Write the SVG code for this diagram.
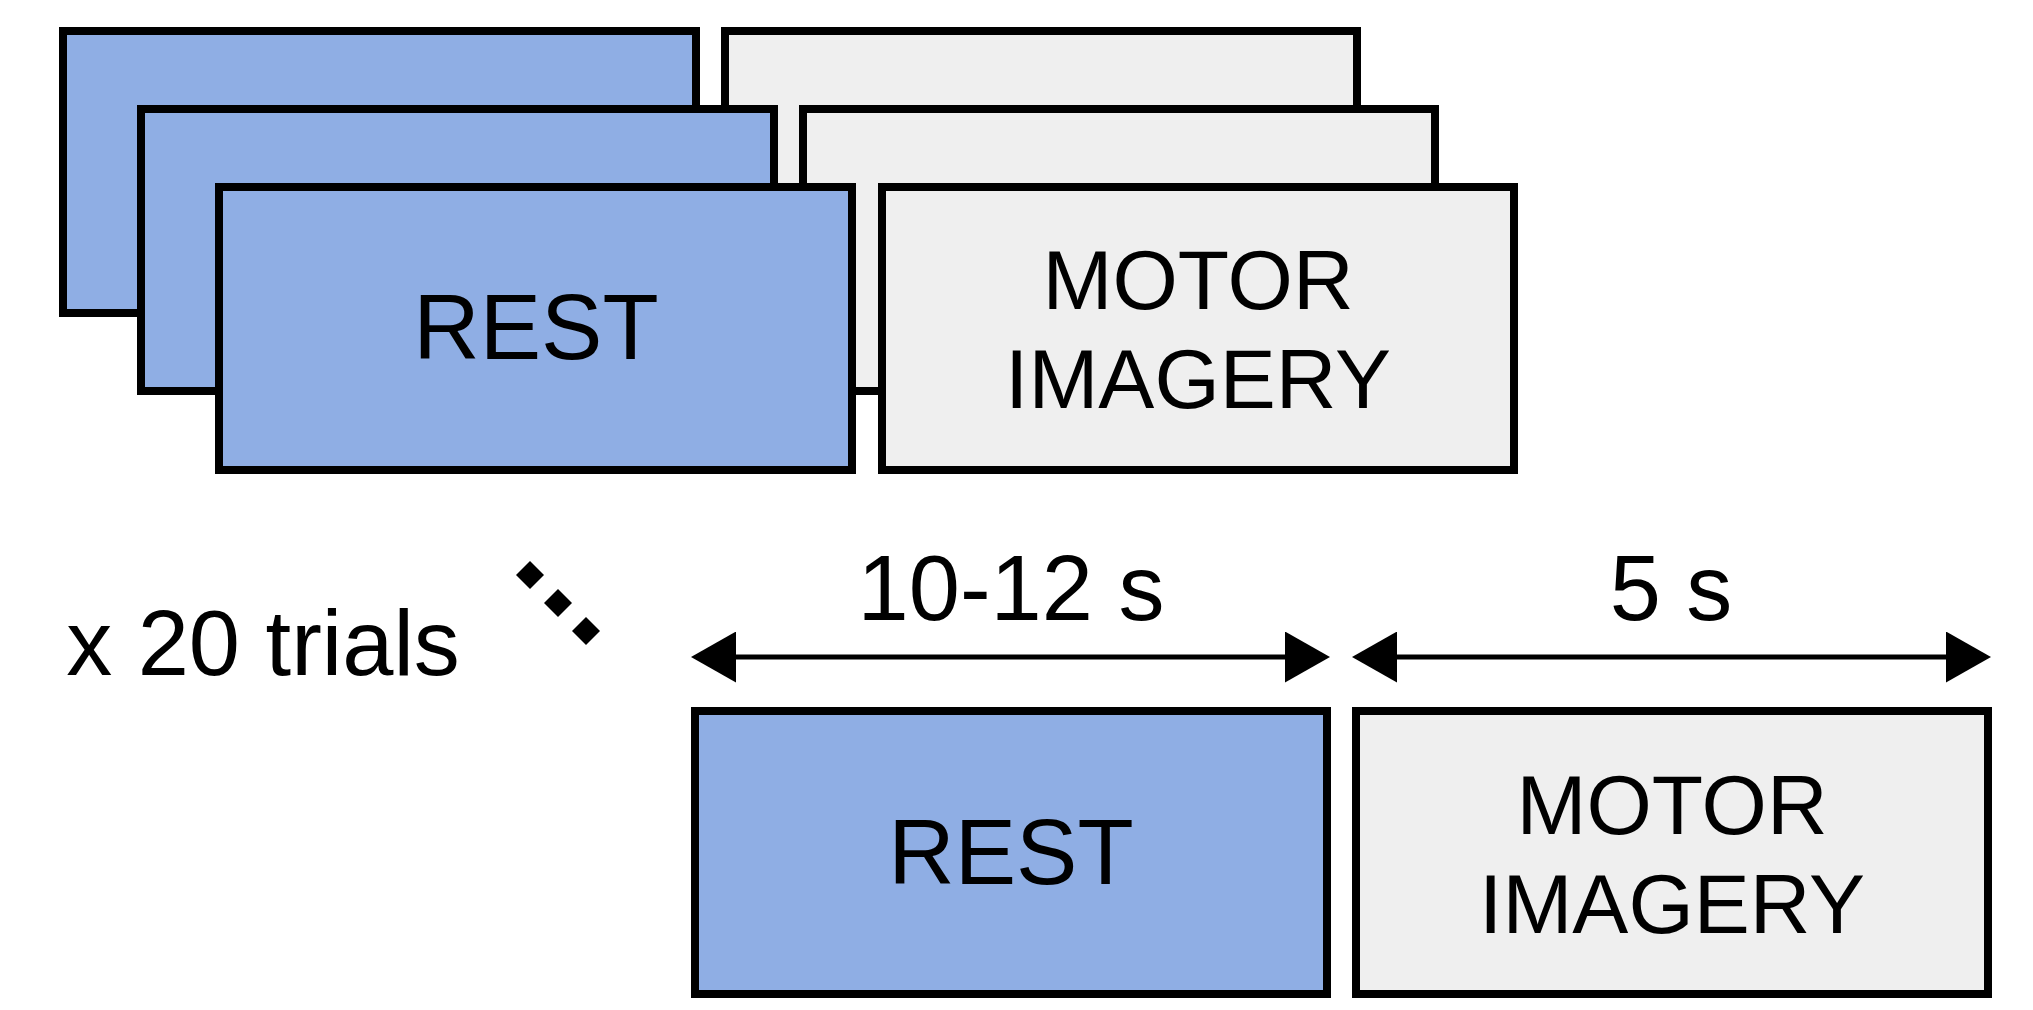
<svg xmlns="http://www.w3.org/2000/svg" width="2033" height="1010" viewBox="0 0 2033 1010">
  <style>
    .rest { fill: #8FAEE4; stroke: #000; stroke-width: 8; }
    .mi { fill: #EFEFEF; stroke: #000; stroke-width: 8; }
    .lbl { font-family: "Liberation Sans", Arial, sans-serif; fill: #000; text-anchor: middle; }
    .big { font-size: 92px; }
    .mid { font-size: 84px; }
    .conn { stroke: #000; stroke-width: 5; fill: none; marker-start: url(#ah); marker-end: url(#ah); }
  </style>
  <defs>
    <marker id="ah" markerUnits="userSpaceOnUse" markerWidth="45" markerHeight="51" refX="40" refY="25.5" orient="auto-start-reverse" viewBox="0 0 45 51">
      <path d="M0,0 L45,25.5 L0,51 Z" fill="#000"/>
    </marker>
  </defs>
  <rect width="2033" height="1010" fill="#fff"/>

  <g id="rest-back-1"><rect class="rest" x="63" y="31" width="633" height="282"/></g>
  <g id="mi-back-1"><rect class="mi" x="725" y="31" width="632" height="282"/></g>
  <g id="rest-back-2"><rect class="rest" x="141" y="109" width="633" height="282"/></g>
  <g id="mi-back-2"><rect class="mi" x="803" y="109" width="632" height="282"/></g>
  <g id="rest-front">
    <rect class="rest" x="219" y="187" width="633" height="283"/>
    <text class="lbl big" x="536" y="359">REST</text>
  </g>
  <g id="mi-front">
    <rect class="mi" x="882" y="187" width="632" height="283"/>
    <text class="lbl mid" x="1198" y="309">MOTOR</text>
    <text class="lbl mid" x="1198" y="408">IMAGERY</text>
  </g>

  <g id="trials">
    <text class="lbl big" x="263" y="675">x 20 trials</text>
    <polygon points="530,561 544,575 530,589 516,575" fill="#000"/>
    <polygon points="558,589 572,603 558,617 544,603" fill="#000"/>
    <polygon points="586,617 600,631 586,645 572,631" fill="#000"/>
  </g>

  <g id="rest-trial">
    <rect class="rest" x="695" y="711" width="632" height="283"/>
    <text class="lbl big" x="1011" y="884">REST</text>
  </g>
  <g id="mi-trial">
    <rect class="mi" x="1356" y="711" width="632" height="283"/>
    <text class="lbl mid" x="1672" y="834">MOTOR</text>
    <text class="lbl mid" x="1672" y="933">IMAGERY</text>
  </g>

  <g id="connectors">
    <line class="conn" x1="696" y1="657" x2="1325" y2="657"/>
    <line class="conn" x1="1357" y1="657" x2="1986" y2="657"/>
  </g>
  <g id="durations">
    <text class="lbl big" x="1011" y="620">10-12 s</text>
    <text class="lbl big" x="1671" y="620">5 s</text>
  </g>
</svg>
